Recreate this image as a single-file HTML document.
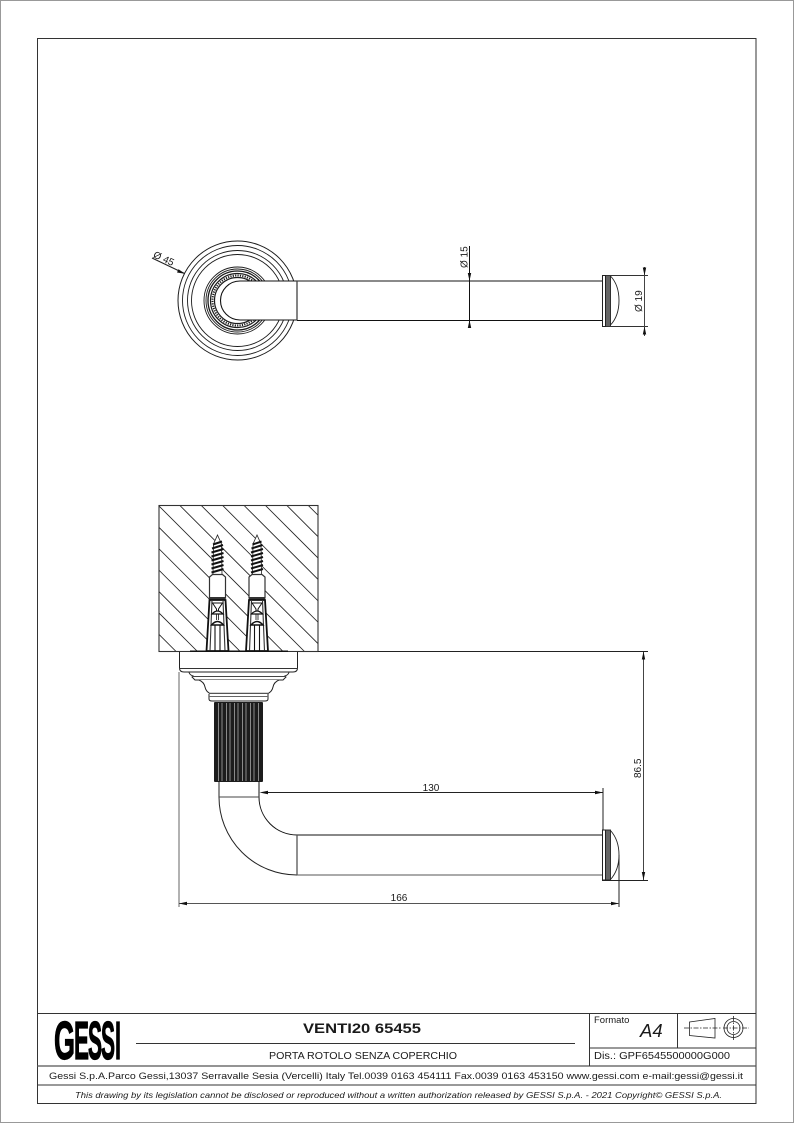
<!DOCTYPE html>
<html>
<head>
<meta charset="utf-8">
<style>
html,body{margin:0;padding:0;background:#fff;}
svg{display:block;}
text{font-family:"Liberation Sans",sans-serif;fill:#1a1a1a;}
.lg{font-size:54px;font-weight:700;fill:#000;stroke:#000;stroke-width:1.2;}
</style>
</head>
<body>
<svg xmlns="http://www.w3.org/2000/svg" width="794" height="1123" viewBox="0 0 794 1123">
<defs>
<clipPath id="wall"><rect x="159" y="505" width="159" height="147"/></clipPath>
<g id="anchor">
  <!-- screw -->
  <path d="M-4.5 575 L-4 544 L0 535 L4 544 L4.5 575 Z" fill="#fff" stroke="#222" stroke-width=".8"/>
  <g stroke="#111" stroke-width="2" fill="none">
    <path d="M-4.5 544.5 L4.5 541.5"/><path d="M-5.5 548.5 L5.5 545"/><path d="M-6 552.5 L6 549"/><path d="M-6 556.5 L6 553"/>
    <path d="M-6 560.5 L6 557"/><path d="M-6 564.5 L6 561"/><path d="M-6 568.5 L6 565"/><path d="M-6 572.5 L6 569"/>
  </g>
  <path d="M-8 598 V577 L-5 574.5 H5 L8 577 V598 Z" fill="#fff" stroke="#333" stroke-width="1.2"/>
  <rect x="-8" y="597" width="16" height="3" fill="#333"/>
  <!-- plug -->
  <path d="M-8 600 L-11 651 H11 L8 600 Z" fill="#fff" stroke="#111" stroke-width="1.8"/>
  <path d="M-5.5 600 L-7.5 651 M5.5 600 L7.5 651" stroke="#333" stroke-width="1.1" fill="none"/>
  <path d="M-2.5 625 V651 M2.5 625 V651" stroke="#111" stroke-width="1.1"/>
  <path d="M-5 603 H5 L1 609 V612 H-1 V609 Z" fill="#fff" stroke="#111" stroke-width="1"/>
  <path d="M-5.5 614 Q0 608 5.5 614 Z" fill="#fff" stroke="#111" stroke-width="1.2"/>
  <path d="M-1 614 V620 M1 614 V620" stroke="#111" stroke-width=".8"/>
  <path d="M-6 625 Q0 618 6 625 Z" fill="#fff" stroke="#111" stroke-width="1.4"/>
</g>
</defs>

<rect width="794" height="1123" fill="#fff"/>
<rect x="0.5" y="0.5" width="793" height="1122" fill="none" stroke="#999" stroke-width="1"/>

<!-- main frame -->
<rect x="37.5" y="38.5" width="718.5" height="1065" fill="none" stroke="#333" stroke-width="1"/>

<!-- ==== TOP VIEW ==== -->
<g fill="none" stroke="#1c1c1c" stroke-width=".9">
  <circle cx="237.5" cy="300.5" r="59.5" stroke-width="1"/>
  <circle cx="237.5" cy="300.5" r="55"/>
  <circle cx="237.5" cy="300.5" r="50"/>
  <circle cx="237.5" cy="300.5" r="46"/>
  <circle cx="237.5" cy="300.5" r="33.5"/>
  <circle cx="237.5" cy="300.5" r="31.5"/>
  <circle cx="237.5" cy="300.5" r="29.5" stroke-width="1.3"/>
  <circle cx="237.5" cy="300.5" r="27" stroke-width="1.2"/>
  <circle cx="237.5" cy="300.5" r="25" stroke-width="2" stroke-dasharray="1.2 1.2"/>
  <circle cx="237.5" cy="300.5" r="23" stroke-width="1.2"/>
</g>
<path d="M297 281 H240 A19.5 19.5 0 0 0 240 320 H297 Z" fill="#fff" stroke="#111" stroke-width="1.1"/>
<path d="M297 281 V320" stroke="#444" stroke-width="1.2"/>
<path d="M297 281 H602" stroke="#444" stroke-width="1.3"/>
<path d="M297 320.5 H602" stroke="#111" stroke-width="1"/>
<rect x="602.5" y="275.5" width="3" height="51" fill="#fff" stroke="#222" stroke-width="1"/>
<rect x="605.5" y="275.5" width="5" height="51" fill="#666" stroke="#222" stroke-width=".9"/>
<path d="M610.5 276 Q619 285 619 300.5 Q619 316 610.5 325" fill="none" stroke="#222" stroke-width=".9"/>

<!-- dim Ø15 -->
<path d="M469.5 246 V328" stroke="#111" stroke-width="1"/>
<path d="M469.5 281 L467.8 273 H471.2 Z M469.5 320 L467.8 328 H471.2 Z" fill="#111"/>
<text transform="translate(467.5,268) rotate(-90)" font-size="10">Ø 15</text>
<!-- dim Ø19 -->
<path d="M606 275.5 H648 M606 326.5 H648" stroke="#333" stroke-width="1"/>
<path d="M644.5 267 V336" stroke="#444" stroke-width="1"/>
<path d="M644.5 275.5 L642.8 267.5 H646.2 Z M644.5 326.5 L642.8 334.5 H646.2 Z" fill="#111"/>
<text transform="translate(642,312) rotate(-90)" font-size="10">Ø 19</text>
<!-- dim Ø45 -->
<path d="M152 258 L184.5 273.5" stroke="#222" stroke-width="1"/>
<path d="M185 273.7 L177 272.5 L178.5 269.3 Z" fill="#111"/>
<text transform="translate(152.5,257) rotate(25)" font-size="10">Ø 45</text>

<!-- ==== SIDE VIEW ==== -->
<!-- wall -->
<g clip-path="url(#wall)" stroke="#222" stroke-width=".85" fill="none">
  <path d="M29.6 505 L176.6 652"/><path d="M51 505 L198 652"/><path d="M72.4 505 L219.4 652"/><path d="M93.8 505 L240.8 652"/>
  <path d="M115.2 505 L262.2 652"/><path d="M136.6 505 L283.6 652"/><path d="M158 505 L305 652"/><path d="M179.4 505 L326.4 652"/>
  <path d="M200.8 505 L347.8 652"/><path d="M222.2 505 L369.2 652"/><path d="M243.6 505 L390.6 652"/><path d="M265 505 L412 652"/>
  <path d="M286.4 505 L433.4 652"/><path d="M307.8 505 L454.8 652"/>
</g>
<rect x="159" y="505.5" width="159" height="146" fill="none" stroke="#333" stroke-width="1.1"/>
<use href="#anchor" x="217.5" y="0"/>
<use href="#anchor" x="257" y="0"/>
<path d="M190 651.5 H288" stroke="#111" stroke-width="2"/>

<!-- plate -->
<path d="M179.5 652 V668 Q179.5 672 184 672 H293 Q297.5 672 297.5 668 V652" fill="#fff" stroke="#222" stroke-width="1"/>
<path d="M179.5 668.5 H297.5" stroke="#333" stroke-width=".9"/>
<path d="M189 672.5 Q190 675 193 676 L192 677 L195 680 H283 L286 677 L285 676 Q288 675 289 672.5" fill="#fff" stroke="#222" stroke-width="1"/>
<path d="M192 676.5 H286" stroke="#444" stroke-width=".9"/>
<path d="M199 680 Q204 682 205 687 Q206 692 211 694 H267 Q272 692 273 687 Q274 682 279 680" fill="#fff" stroke="#222" stroke-width="1"/>
<path d="M209 693.5 H268" stroke="#555" stroke-width="1.6"/>
<path d="M209 694 V699 Q209 701 212 701 H265 Q268 701 268 699 V694" fill="#fff" stroke="#222" stroke-width="1"/>
<path d="M209 696.5 H268" stroke="#666" stroke-width="1"/>
<!-- knurl -->
<rect x="214" y="702" width="49" height="80" rx="1" fill="#1c1c1c"/>
<g stroke="#8a8a8a" stroke-width="1">
  <path d="M218.5 703 V781"/><path d="M222 703 V781"/><path d="M226.5 703 V781"/><path d="M230 703 V781"/>
  <path d="M234.5 703 V781"/><path d="M238 703 V781"/><path d="M242.5 703 V781"/><path d="M246 703 V781"/>
  <path d="M250.5 703 V781"/><path d="M254 703 V781"/><path d="M258.5 703 V781"/>
</g>
<!-- tube -->
<path d="M219 782 V797 A78 78 0 0 0 297 875 H602" fill="none" stroke="#222" stroke-width="1"/>
<path d="M259 782 V797 A38 38 0 0 0 297 835 H602" fill="none" stroke="#111" stroke-width="1"/>
<path d="M219 797 H259" stroke="#444" stroke-width="1"/>
<path d="M297 835 V875" stroke="#555" stroke-width="1.3"/>
<path d="M297 875 H602" stroke="#555" stroke-width="1.1"/>
<!-- cap -->
<rect x="602.5" y="830" width="3" height="50" fill="#fff" stroke="#222" stroke-width="1"/>
<rect x="605.5" y="830" width="5" height="50" fill="#666" stroke="#222" stroke-width=".9"/>
<path d="M610.5 830.5 Q619 840 619 855 Q619 870 610.5 879.5" fill="none" stroke="#222" stroke-width=".9"/>

<!-- dims -->
<path d="M262 792.5 H603" stroke="#222" stroke-width="1"/>
<path d="M259.5 792.5 L268 790.8 V794.2 Z M603 792.5 L595 790.8 V794.2 Z" fill="#111"/>
<path d="M603 788 V830" stroke="#222" stroke-width="1"/>
<text x="431" y="791" font-size="10" text-anchor="middle">130</text>

<path d="M318 651.5 H648 M602 880.5 H648" stroke="#222" stroke-width="1"/>
<path d="M643.5 652 V880" stroke="#444" stroke-width="1"/>
<path d="M643.5 651.5 L641.8 659.5 H645.2 Z M643.5 880 L641.8 872 H645.2 Z" fill="#111"/>
<text transform="translate(641,778) rotate(-90)" font-size="10">86.5</text>

<path d="M179 672 V907" stroke="#666" stroke-width="1"/>
<path d="M619 855 V907" stroke="#222" stroke-width="1"/>
<path d="M179 903.5 H619" stroke="#555" stroke-width="1"/>
<path d="M179 903.5 L187 901.8 V905.2 Z M619 903.5 L611 901.8 V905.2 Z" fill="#111"/>
<text x="399" y="901" font-size="10" text-anchor="middle">166</text>

<!-- ==== TITLE BLOCK ==== -->
<g stroke="#333" stroke-width="1" fill="none">
  <path d="M37 1013.5 H756"/>
  <path d="M37 1066 H756" stroke="#555" stroke-width="1.2"/>
  <path d="M37 1085 H756"/>
  <path d="M136 1043.5 H575"/>
  <path d="M589.5 1013 V1066"/>
  <path d="M677.5 1013 V1048"/>
  <path d="M589 1048 H756"/>
</g>
<text class="lg" x="54" y="1059" textLength="21" lengthAdjust="spacingAndGlyphs">G</text>
<text class="lg" x="74" y="1059" textLength="15" lengthAdjust="spacingAndGlyphs">E</text>
<text class="lg" x="88" y="1059" textLength="14" lengthAdjust="spacingAndGlyphs">S</text>
<text class="lg" x="101" y="1059" textLength="14" lengthAdjust="spacingAndGlyphs">S</text>
<text class="lg" x="115" y="1059" textLength="6" lengthAdjust="spacingAndGlyphs">I</text>
<text x="362" y="1033" font-size="14" font-weight="700" text-anchor="middle" textLength="118" lengthAdjust="spacingAndGlyphs">VENTI20 65455</text>
<text x="269" y="1059" font-size="10" textLength="188" lengthAdjust="spacingAndGlyphs">PORTA ROTOLO SENZA COPERCHIO</text>
<text x="594" y="1023" font-size="9.5">Formato</text>
<text x="640" y="1037" font-size="18.5" font-style="italic">A4</text>
<text x="594" y="1059" font-size="10.5" textLength="136" lengthAdjust="spacingAndGlyphs">Dis.: GPF6545500000G000</text>
<text x="49" y="1079" font-size="9.5" textLength="694" lengthAdjust="spacingAndGlyphs">Gessi S.p.A.Parco Gessi,13037 Serravalle Sesia (Vercelli) Italy Tel.0039 0163 454111 Fax.0039 0163 453150 www.gessi.com e-mail:gessi@gessi.it</text>
<text x="75" y="1098" font-size="8" font-style="italic" textLength="647" lengthAdjust="spacingAndGlyphs">This drawing by its legislation cannot be disclosed or reproduced without a written authorization released by GESSI S.p.A. - 2021 Copyright© GESSI S.p.A.</text>
<!-- projection symbol -->
<g fill="none" stroke="#222" stroke-width=".8">
  <path d="M689.5 1022 L715 1018.5 V1038 L689.5 1035.5 Z"/>
  <path d="M684 1028 H721" stroke-dasharray="5 1.5 1.5 1.5"/>
  <path d="M723 1028 H749" stroke-dasharray="5 1.5 1.5 1.5"/>
  <path d="M733.5 1016 V1040" stroke-dasharray="5 1.5 1.5 1.5"/>
  <circle cx="733.5" cy="1028" r="9.5"/>
  <circle cx="733.5" cy="1028" r="6.5"/>
</g>
</svg>
</body>
</html>
